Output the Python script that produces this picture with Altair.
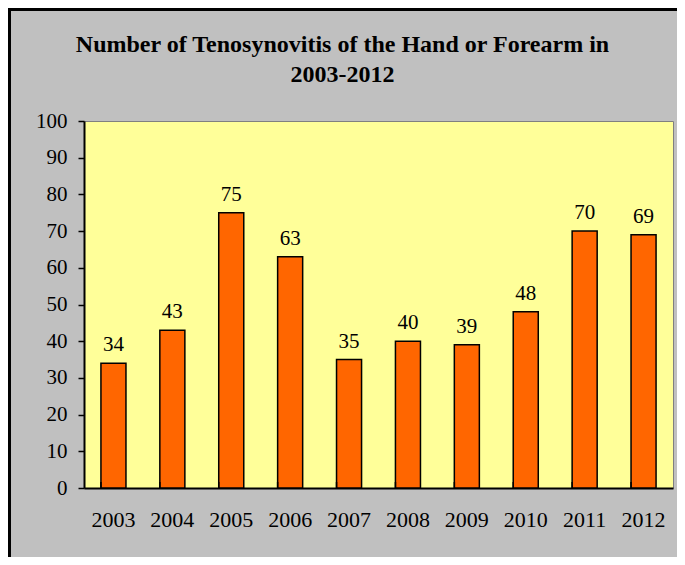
import altair as alt
import pandas as pd

years = ["2003", "2004", "2005", "2006", "2007", "2008", "2009", "2010", "2011", "2012"]
counts = [34, 43, 75, 63, 35, 40, 39, 48, 70, 69]
title_lines = ["Number of Tenosynovitis of the Hand or Forearm in", "2003-2012"]
y_ticks = [0, 10, 20, 30, 40, 50, 60, 70, 80, 90, 100]

FONT = "Liberation Serif, Times New Roman, DejaVu Serif, serif"
W, H = 589, 367

df = pd.DataFrame({"year": years, "count": counts})
one = pd.DataFrame({"a": [0]})

x_axis = alt.Axis(labelAngle=0, tickSize=0, labelPadding=21, domainColor="black",
                  domainWidth=2, labelFontSize=22, labelColor="black", labelFont=FONT)
y_axis = alt.Axis(values=y_ticks, tickCount=11, tickSize=6, tickColor="black", tickWidth=1.5,
                  domainColor="black", domainWidth=2, grid=False, labelPadding=11,
                  labelOverlap=False, labelFontSize=21, labelFont=FONT, labelColor="black")
x_scale = alt.Scale(paddingInner=0.575, paddingOuter=0.2875)
y_scale = alt.Scale(domain=[0, 100])


def xe(**kw):
    return alt.X("year:N", sort=years, title=None, scale=x_scale, axis=x_axis, **kw)


def ye():
    return alt.Y("count:Q", title=None, scale=y_scale, axis=y_axis)


bars = alt.Chart(df).mark_bar(color="#ff6600", stroke="black", strokeWidth=1.5).encode(x=xe(), y=ye())

labels = alt.Chart(df).mark_text(font=FONT, fontSize=21, color="black", baseline="alphabetic", dy=-12).encode(
    x=xe(), y=ye(), text=alt.Text("count:Q")
)

ticks = alt.Chart(df).mark_rule(color="black", strokeWidth=1.5).encode(
    x=xe(bandPosition=0), y=alt.value(H), y2=alt.value(H - 6)
)

border_left = alt.Chart(one).mark_rule(color="black", strokeWidth=3).encode(
    x=alt.value(-74.5), y=alt.value(-113), y2=alt.value(H + 69)
)
border_top = alt.Chart(one).mark_rule(color="black", strokeWidth=3).encode(
    y=alt.value(-111.5), x=alt.value(-76), x2=alt.value(W + 4)
)

chart = alt.layer(bars, labels, ticks, border_left, border_top).properties(
    width=W, height=H,
    title=alt.TitleParams(text=title_lines, font=FONT, fontSize=24, fontWeight="bold", color="black",
                          anchor="middle", dx=-36, offset=-80, lineHeight=30),
    autosize=alt.AutoSizeParams(type="none"),
    padding={"left": 76, "top": 113, "right": 4, "bottom": 69},
).configure(background="#c0c0c0", font=FONT).configure_view(
    fill="#ffff99", stroke="#808080", strokeWidth=1
).configure_axis(labelFont=FONT, labelColor="black", labelOverlap=False)

chart.save("out.html", embed_options={"renderer": "svg", "actions": False})
